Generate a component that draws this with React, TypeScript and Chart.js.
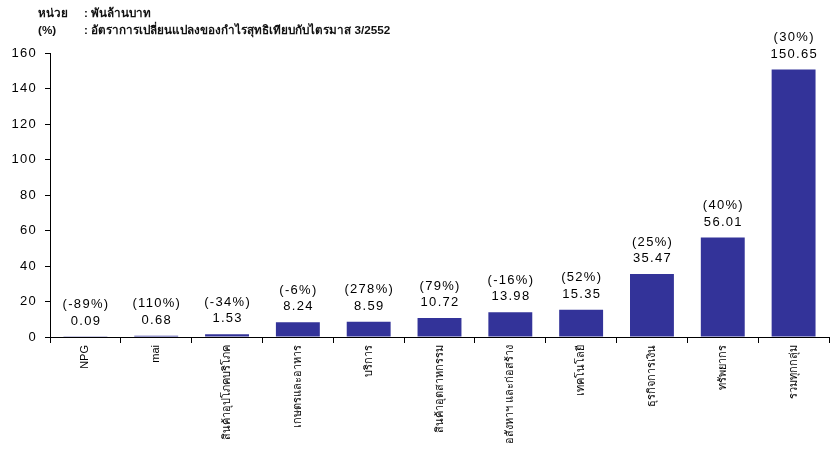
import React, { useEffect, useRef } from "react";
import { Chart, registerables } from "chart.js";

Chart.register(...registerables);

const categories: string[] = [
  "NPG",
  "mai",
  "สินค้าอุปโภคบริโภค",
  "เกษตรและอาหาร",
  "บริการ",
  "สินค้าอุตสาหกรรม",
  "อสังหาฯ และก่อสร้าง",
  "เทคโนโลยี",
  "ธุรกิจการเงิน",
  "ทรัพยากร",
  "รวมทุกกลุ่ม",
];

const netProfit: number[] = [0.09, 0.68, 1.53, 8.24, 8.59, 10.72, 13.98, 15.35, 35.47, 56.01, 150.65];

const changePct: string[] = [
  "(-89%)",
  "(110%)",
  "(-34%)",
  "(-6%)",
  "(278%)",
  "(79%)",
  "(-16%)",
  "(52%)",
  "(25%)",
  "(40%)",
  "(30%)",
];

const headerLabels: string[] = ["หน่วย", "(%)"];
const headerTexts: string[] = [
  ": พันล้านบาท",
  ": อัตราการเปลี่ยนแปลงของกำไรสุทธิเทียบกับไตรมาส 3/2552",
];

const FONT = "Arial, 'Liberation Sans', 'DejaVu Sans', sans-serif";
const SPACING = "1.3px";

const labelPlugin = {
  id: "barLabels",
  afterDatasetsDraw(chart: any) {
    const ctx = chart.ctx;
    const meta = chart.getDatasetMeta(0);
    ctx.save();
    ctx.font = `13px ${FONT}`;
    (ctx as any).letterSpacing = SPACING;
    ctx.fillStyle = "#000";
    ctx.textAlign = "center";
    ctx.textBaseline = "middle";
    meta.data.forEach((bar: any, i: number) => {
      ctx.fillText(netProfit[i].toFixed(2), bar.x + 0.6, bar.y - 15.5);
      ctx.fillText(changePct[i], bar.x + 0.6, bar.y - 32);
    });
    ctx.restore();
  },
};

const headerPlugin = {
  id: "header",
  afterDraw(chart: any) {
    const ctx = chart.ctx;
    ctx.save();
    ctx.font = `bold 11.7px ${FONT}`;
    ctx.fillStyle = "#111";
    ctx.textAlign = "left";
    ctx.textBaseline = "middle";
    const ys = [14, 31];
    headerLabels.forEach((l, i) => {
      ctx.fillText(l, 38, ys[i]);
      ctx.fillText(headerTexts[i], 84, ys[i]);
    });
    ctx.restore();
  },
};

export default function App() {
  const ref = useRef<HTMLCanvasElement>(null);
  useEffect(() => {
    if (!ref.current) return;
    const chart = new Chart(ref.current, {
      type: "bar",
      data: {
        labels: categories,
        datasets: [
          {
            data: netProfit,
            backgroundColor: "#333399",
            borderWidth: 0,
            barPercentage: 0.62,
            categoryPercentage: 1,
          },
        ],
      },
      options: {
        responsive: false,
        animation: false,
        layout: { padding: { top: 53, right: 1, left: 0, bottom: 0 } },
        plugins: {
          legend: { display: false },
          tooltip: { enabled: false },
        },
        scales: {
          x: {
            grid: {
              offset: true,
              drawOnChartArea: false,
              tickLength: 6,
              color: "#000",
            },
            border: { color: "#000", width: 1 },
            ticks: {
              minRotation: 90,
              maxRotation: 90,
              autoSkip: false,
              padding: 2,
              color: "#000",
              font: { size: 11, family: FONT },
            },
            afterFit(scale: any) {
              scale.height = 113;
            },
          },
          y: {
            min: 0,
            max: 160,
            ticks: {
              stepSize: 20,
              padding: 8,
              color: "#000",
              font: { size: 13, family: FONT },
            },
            grid: {
              drawOnChartArea: false,
              tickLength: 5,
              color: "#000",
            },
            border: { color: "#000", width: 1 },
            afterFit(scale: any) {
              scale.width = 50;
            },
            afterUpdate(scale: any) {
              if (scale.__wrapped) return;
              scale.__wrapped = true;
              const orig = Object.getPrototypeOf(scale).drawLabels;
              scale.drawLabels = function (area: any) {
                const ctx = this.ctx;
                ctx.save();
                ctx.letterSpacing = SPACING;
                orig.call(this, area);
                ctx.restore();
              };
            },
          },
        },
      },
      plugins: [labelPlugin, headerPlugin],
    });
    return () => chart.destroy();
  }, []);
  return (
    <div style={{ position: "absolute", left: 0, top: 0, width: 830, height: 450, background: "#fff" }}>
      <canvas ref={ref} width={830} height={450} />
    </div>
  );
}
